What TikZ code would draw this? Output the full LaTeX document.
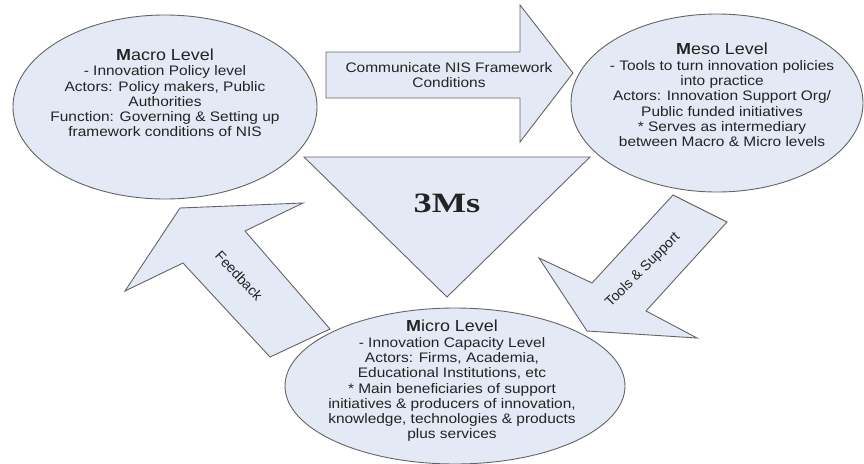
\documentclass[tikz,border=0pt]{standalone}
\usepackage{fontspec}
\setmainfont[FakeStretch=1.12]{Liberation Sans}
\newfontfamily\rotfont{Liberation Sans}
\newfontfamily\bigserif[FakeStretch=1.3]{Liberation Serif}
\usetikzlibrary{shapes.geometric}
\definecolor{shapefill}{RGB}{228,234,245}
\definecolor{shapeline}{RGB}{100,100,100}
\definecolor{txt}{RGB}{35,35,35}
\begin{document}
\begin{tikzpicture}[x=1pt,y=-1pt,
  blk/.style={draw=shapeline, fill=shapefill, line width=0.9pt},
  oval/.style={blk, ellipse, inner sep=0pt},
  lbl/.style={text=txt, align=center, inner sep=0pt, font=\fontsize{13.8}{15.3}\selectfont},
  rlbl/.style={text=txt, inner sep=0pt, font=\rotfont\fontsize{14}{15}\selectfont}]
\useasboundingbox (0,0) rectangle (864,463);
% ellipses
\node[oval, minimum width=304pt, minimum height=184pt] (macro) at (165,107) {};
\node[oval, minimum width=292pt, minimum height=178pt] (meso) at (717,103) {};
\node[oval, minimum width=340pt, minimum height=156pt] (micro) at (455,386) {};
% top arrow
\draw[blk] (326,52) -- (520,52) -- (520,5) -- (573,73) -- (520,142) -- (520,98) -- (326,98) -- cycle;
% triangle
\draw[blk] (304,157) -- (590,157) -- (447,297) -- cycle;
% tools arrow
\draw[blk] (673,195) -- (727,222) -- (646,311) -- (697,338) -- (587,331) -- (539,258) -- (592,283) -- cycle;
% feedback arrow
\draw[blk] (270,357) -- (183,263) -- (125,291) -- (180,208) -- (303,203) -- (245,231) -- (330,329) -- cycle;
% texts
\node[lbl] (macrotext) at (165,93) {{\fontsize{16}{16}\selectfont\textbf{M}acro Level}\\- Innovation Policy level\\Actors: Policy makers, Public\\Authorities\\Function: Governing \& Setting up\\framework conditions of NIS};
\node[lbl] (mesotext) at (722,95) {{\fontsize{16}{16}\selectfont\textbf{M}eso Level}\\- Tools to turn innovation policies\\into practice\\Actors: Innovation Support Org/\\Public funded initiatives\\* Serves as intermediary\\between Macro \& Micro levels};
\node[lbl] (microtext) at (452,381) {{\fontsize{16}{16}\selectfont\textbf{M}icro Level}\\- Innovation Capacity Level\\Actors: Firms, Academia,\\Educational Institutions, etc\\* Main beneficiaries of support\\initiatives \& producers of innovation,\\knowledge, technologies \& products\\plus services};
\node[lbl] (commtext) at (449,75) {Communicate NIS Framework\\Conditions};
\node[text=txt, inner sep=0pt, font=\bigserif\bfseries\fontsize{28}{30}\selectfont] (threem) at (447,203) {3Ms};
\node[rlbl, rotate=-47] (fbtext) at (239,276) {Feedback};
\node[rlbl, rotate=45] (tstext) at (643,270) {Tools \& Support};
\end{tikzpicture}
\end{document}
